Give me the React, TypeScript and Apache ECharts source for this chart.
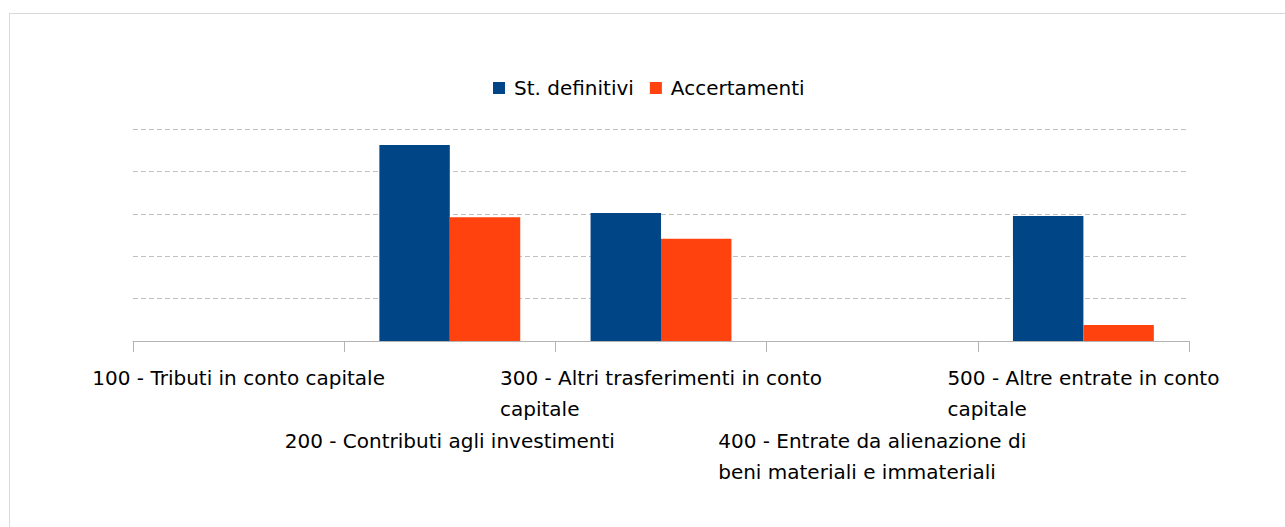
import React, { useEffect, useRef } from "react";
import * as echarts from "echarts";

const categories = [
  "100 - Tributi in conto capitale",
  "200 - Contributi agli investimenti",
  "300 - Altri trasferimenti in conto capitale",
  "400 - Entrate da alienazione di beni materiali e immateriali",
  "500 - Altre entrate in conto capitale",
];
const labelLines = [
  ["100 - Tributi in conto capitale"],
  ["200 - Contributi agli investimenti"],
  ["300 - Altri trasferimenti in conto", "capitale"],
  ["400 - Entrate da alienazione di", "beni materiali e immateriali"],
  ["500 - Altre entrate in conto", "capitale"],
];
const seriesNames = ["St. definitivi", "Accertamenti"];
const stDefinitivi = [0, 4.62, 3.02, 0, 2.95];
const accertamenti = [0, 2.92, 2.41, 0, 0.38];

const FONT = "'DejaVu Sans', sans-serif";
const FS = 20;

export default function App() {
  const ref = useRef<HTMLDivElement>(null);
  useEffect(() => {
    if (!ref.current) return;
    const chart = echarts.init(ref.current, undefined, { renderer: "svg" });
    const rich: any = {
      l: {
        align: "left",
        lineHeight: 31,
        fontSize: FS,
        fontFamily: FONT,
        color: "#000",
      },
    };
    const fmt = (_v: string, i: number) =>
      labelLines[i].map((l) => `{l|${l}}`).join("\n");
    chart.setOption({
      animation: false,
      legend: {
        data: seriesNames,
        left: 488,
        top: 73,
        icon: "rect",
        itemWidth: 12,
        itemHeight: 12,
        itemGap: 16,
        textStyle: { fontSize: FS, fontFamily: FONT, color: "#000", padding: [0, 0, 0, 4] },
      },
      grid: { left: 133, right: 96, top: 129, bottom: 186, containLabel: false },
      xAxis: [
        {
          type: "category",
          data: categories,
          position: "bottom",
          axisLine: { lineStyle: { color: "#b3b3b3", width: 1 } },
          axisTick: { show: true, interval: 0, length: 11, lineStyle: { color: "#b3b3b3" } },
          axisLabel: {
            interval: (i: number) => i % 2 === 0,
            margin: 21,
            formatter: fmt,
            rich,
          },
        },
        {
          type: "category",
          data: categories,
          position: "bottom",
          axisLine: { show: false },
          axisTick: { show: false },
          axisLabel: {
            interval: (i: number) => i % 2 === 1,
            margin: 84,
            formatter: fmt,
            rich,
          },
        },
      ],
      yAxis: {
        type: "value",
        min: 0,
        max: 5,
        interval: 1,
        axisLabel: { show: false },
        axisLine: { show: false },
        axisTick: { show: false },
        splitLine: { lineStyle: { color: "#c0c0c0", type: [5, 3], width: 1 } },
      },
      series: [
        {
          name: seriesNames[0],
          type: "bar",
          xAxisIndex: 0,
          data: stDefinitivi,
          itemStyle: { color: "#004586" },
          barGap: "0%",
          barCategoryGap: "33.3%",
        },
        {
          name: seriesNames[1],
          type: "bar",
          xAxisIndex: 0,
          data: accertamenti,
          itemStyle: { color: "#ff420e" },
          barGap: "0%",
          barCategoryGap: "33.3%",
        },
      ],
    });
    return () => chart.dispose();
  }, []);
  return (
    <div
      style={{
        position: "fixed",
        left: 0,
        top: 0,
        width: 1285,
        height: 527,
        overflow: "hidden",
        background: "#fff",
      }}
    >
      <div
        style={{
          position: "absolute",
          left: 9,
          top: 13,
          width: 1400,
          height: 700,
          border: "1px solid #d9d9d9",
        }}
      />
      <div ref={ref} style={{ position: "absolute", left: 0, top: 0, width: 1285, height: 527 }} />
    </div>
  );
}
